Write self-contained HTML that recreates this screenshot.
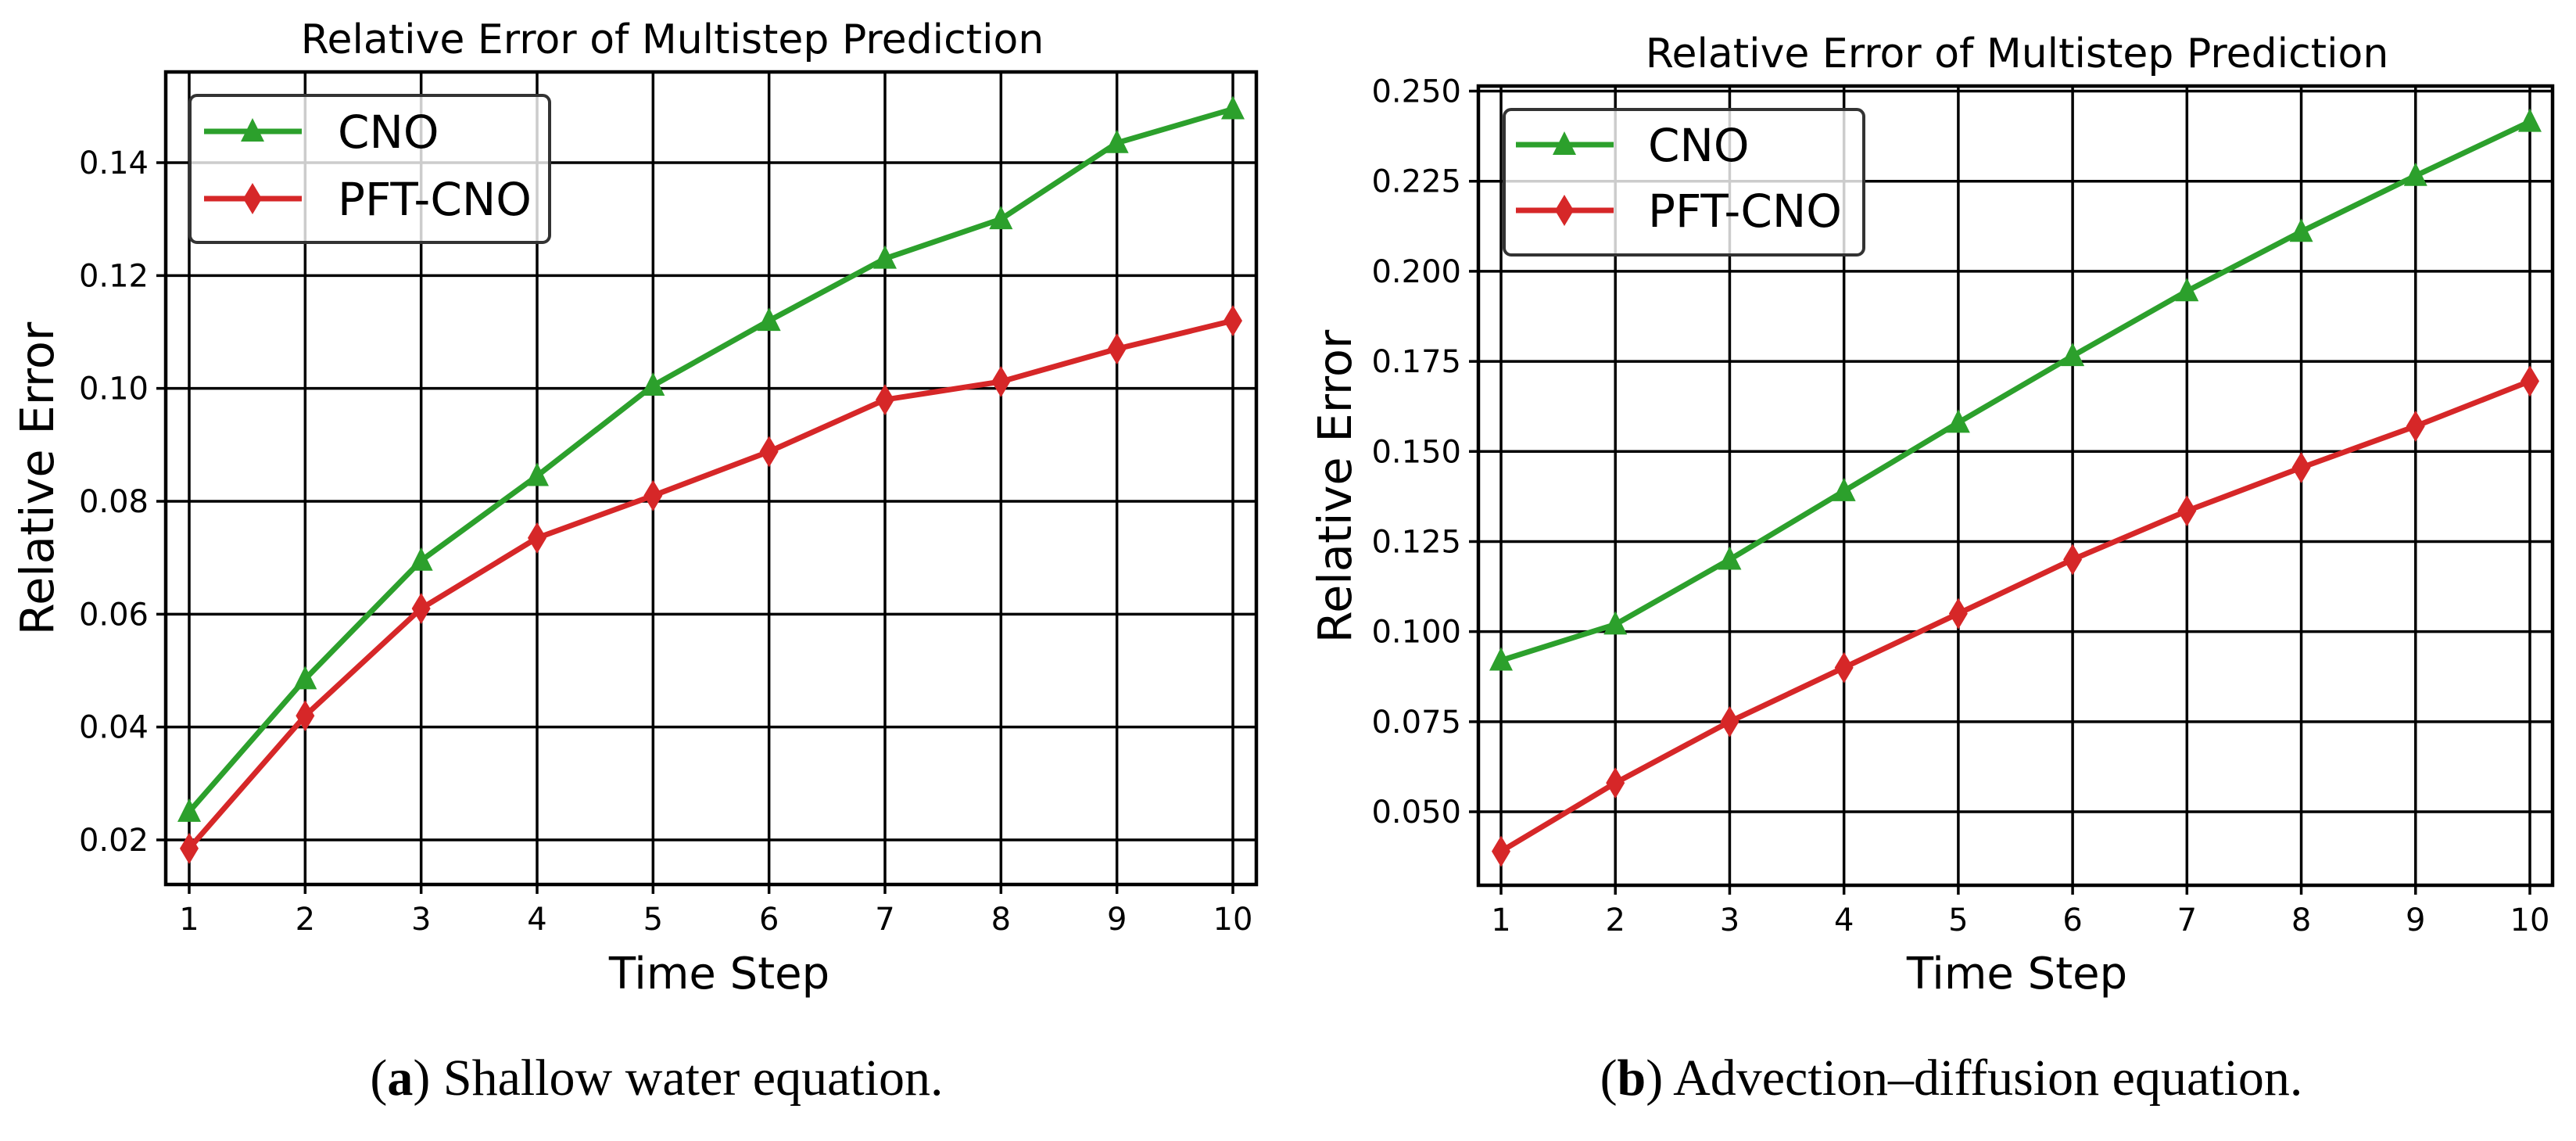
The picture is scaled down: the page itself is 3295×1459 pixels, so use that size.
<!DOCTYPE html>
<html><head><meta charset="utf-8"><style>
html,body{margin:0;padding:0;background:#fff;}
svg{display:block;}
text{font-family:"DejaVu Sans","Liberation Sans",sans-serif;}
.cap{font-family:"Liberation Serif","DejaVu Serif",serif;}
</style></head><body>
<svg id="fig" width="3295" height="1459" viewBox="0 0 3295 1459" xmlns="http://www.w3.org/2000/svg"></svg>
<script>
const steps = [1,2,3,4,5,6,7,8,9,10];
const swCNO = [0.025,0.0485,0.0695,0.0845,0.1005,0.112,0.123,0.130,0.1435,0.1495];
const swPFT = [0.0185,0.042,0.061,0.0735,0.081,0.0888,0.098,0.1012,0.107,0.112];
const swTicks = [0.02,0.04,0.06,0.08,0.10,0.12,0.14];
const swTickLabels = ["0.02","0.04","0.06","0.08","0.10","0.12","0.14"];
const adCNO = [0.092,0.102,0.120,0.139,0.158,0.1765,0.1945,0.211,0.2265,0.2415];
const adPFT = [0.039,0.058,0.075,0.090,0.105,0.120,0.1335,0.1455,0.157,0.1695];
const adTicks = [0.050,0.075,0.100,0.125,0.150,0.175,0.200,0.225,0.250];
const adTickLabels = ["0.050","0.075","0.100","0.125","0.150","0.175","0.200","0.225","0.250"];
const seriesNames = ["CNO","PFT-CNO"];

const NS="http://www.w3.org/2000/svg";
const svg=document.getElementById('fig');
function mk(tag,attrs,parent){const e=document.createElementNS(NS,tag);for(const k in attrs)e.setAttribute(k,attrs[k]);(parent||svg).appendChild(e);return e;}

function panel(cfg){
  const g=mk('g',{});
  
  
  const xs=v=>cfg.x1+(v-1)*(cfg.x10-cfg.x1)/9;
  const ys=v=>cfg.yA+(v-cfg.vA)*(cfg.yB-cfg.yA)/(cfg.vB-cfg.vA);
  steps.forEach(s=>{
    const l=mk('line',{x1:xs(s),x2:xs(s),y1:cfg.top,y2:cfg.bottom+12,stroke:'#000','stroke-width':3.5},g);
    
    
    const t=mk('text',{x:xs(s),y:cfg.bottom+58,'font-size':40,'text-anchor':'middle'},g);
    t.textContent=s;
    
    
  });
  cfg.ticks.forEach((v,i)=>{
    const l=mk('line',{x1:cfg.left-12,x2:cfg.right,y1:ys(v),y2:ys(v),stroke:'#000','stroke-width':3.5},g);
    
    
    const t=mk('text',{x:cfg.left-22,y:ys(v)+14,'font-size':40,'text-anchor':'end'},g);
    t.textContent=cfg.labels[i];
    
    
  });
  const fr=mk('rect',{x:cfg.left,y:cfg.top,width:cfg.right-cfg.left,height:cfg.bottom-cfg.top,fill:'none',stroke:'#000','stroke-width':4.5},g);
  
  
  const cols=['#2ca02c','#d62728'];
  [cfg.a,cfg.b].forEach((arr,si)=>{
    const pts=arr.map((v,i)=>xs(steps[i])+','+ys(v)).join(' ');
    const pl=mk('polyline',{points:pts,fill:'none',stroke:cols[si],'stroke-width':7,'stroke-linejoin':'round'},g);
    
    
    arr.forEach((v,i)=>{
      const m=marker(si,xs(steps[i]),ys(v),g);
      
      
    });
  });
  const L=cfg.leg;
  const lg=mk('g',{},g);
  
  
  mk('rect',{x:L.x,y:L.y,width:L.w,height:L.h,rx:9,fill:'rgba(255,255,255,0.8)',stroke:'#333','stroke-width':4},lg);
  seriesNames.forEach((n,si)=>{
    const y=L.r[si];
    const e=mk('g',{},lg);
    
    
    mk('line',{x1:L.lx,x2:L.lx+125,y1:y,y2:y,stroke:cols[si],'stroke-width':7},e);
    marker(si,L.lx+62,y,e);
    const t=mk('text',{x:L.tx,y:y+21,'font-size':58},e);
    t.textContent=n;
  });
  const ti=mk('text',{x:cfg.tcx,y:cfg.ty,'font-size':52,'text-anchor':'middle'},g);
  ti.textContent='Relative Error of Multistep Prediction';
  
  
  const xl=mk('text',{x:cfg.xlx,y:1264,'font-size':56,'text-anchor':'middle'},g);
  xl.textContent='Time Step';
  
  
  const yl=mk('text',{x:cfg.ylx,y:cfg.yly,'font-size':59,'text-anchor':'middle',transform:`rotate(-90 ${cfg.ylx} ${cfg.yly})`},g);
  yl.textContent='Relative Error';
  
  
  const cp=mk('text',{x:cfg.cx,y:1400,'font-size':66,'text-anchor':'middle',class:'cap'},g);
  cp.innerHTML='(<tspan font-weight="bold">'+cfg.cl+'</tspan>) '+cfg.ct;
  
  
}
function marker(si,cx,cy,p){
  if(si===0) return mk('polygon',{points:`${cx},${cy-17} ${cx-15},${cy+13} ${cx+15},${cy+13}`,fill:'#2ca02c'},p);
  return mk('polygon',{points:`${cx},${cy-20} ${cx-12},${cy} ${cx},${cy+20} ${cx+12},${cy}`,fill:'#d62728'},p);
}
panel({name:'shallow-water-chart',left:212,right:1607,top:92,bottom:1131,x1:242,x10:1577,
  vA:0.02,yA:1074,vB:0.14,yB:208,ticks:swTicks,labels:swTickLabels,a:swCNO,b:swPFT,
  leg:{x:243,y:122,w:460,h:188,r:[168,254],lx:261,tx:432},
  tcx:860,ty:68,xlx:920,ylx:68,yly:612,cx:840,cl:'a',ct:'Shallow water equation.'});
panel({name:'advection-diffusion-chart',left:1891,right:3265,top:110,bottom:1132,x1:1920,x10:3236,
  vA:0.05,yA:1038,vB:0.25,yB:116.5,ticks:adTicks,labels:adTickLabels,a:adCNO,b:adPFT,
  leg:{x:1924,y:140,w:460,h:186,r:[185,269],lx:1939,tx:2108},
  tcx:2580,ty:86,xlx:2580,ylx:1728,yly:622,cx:2496,cl:'b',ct:'Advection–diffusion equation.'});
</script>
</body></html>
